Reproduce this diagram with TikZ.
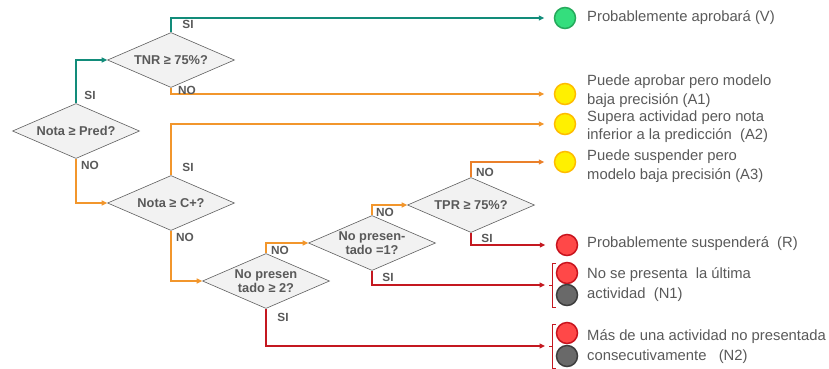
\documentclass[tikz,border=0pt]{standalone}
\usepackage{fontspec}
\setmainfont{Liberation Sans}
\usetikzlibrary{shapes.geometric,arrows.meta}
\definecolor{tealc}{RGB}{18,140,122}
\definecolor{orangec}{RGB}{242,150,44}
\definecolor{orangedk}{RGB}{234,128,42}
\definecolor{redc}{RGB}{196,24,32}
\definecolor{txt}{RGB}{89,89,89}
\definecolor{diafill}{RGB}{242,242,242}
\definecolor{diadraw}{RGB}{95,95,95}
\definecolor{gfill}{RGB}{52,222,125}
\definecolor{gdraw}{RGB}{38,170,92}
\definecolor{yfill}{RGB}{255,240,0}
\definecolor{ydraw}{RGB}{255,188,0}
\definecolor{rfill}{RGB}{255,72,72}
\definecolor{rdraw}{RGB}{200,20,30}
\definecolor{kfill}{RGB}{105,105,105}
\definecolor{kdraw}{RGB}{62,62,62}
\tikzset{
  dia/.style={diamond, draw=diadraw, fill=diafill, minimum width=127pt, minimum height=55pt, inner sep=0pt, line width=0.6pt},
  dt/.style={font=\bfseries\fontsize{12.8}{14}\selectfont, text=txt, align=center, inner sep=0pt},
  lab/.style={font=\bfseries\fontsize{11.8}{13}\selectfont, text=txt, inner sep=0pt},
  rt/.style={anchor=west, font=\fontsize{14.8}{18.5}\selectfont, text=txt, align=left, inner sep=0pt},
  rtn/.style={rt, font=\fontsize{14.8}{20}\selectfont},
  circ/.style={circle, minimum size=21pt, inner sep=0pt, line width=1.5pt},
  cgreen/.style={circ, fill=gfill, draw=gdraw},
  cyellow/.style={circ, fill=yfill, draw=ydraw},
  cred/.style={circ, fill=rfill, draw=rdraw},
  cgray/.style={circ, fill=kfill, draw=kdraw},
  conn/.style={line width=1.3pt, -{Triangle[length=5.5pt,width=5pt]}},
  tline/.style={conn, draw=tealc},
  oline/.style={conn, draw=orangec},
  odline/.style={conn, draw=orangedk},
  rline/.style={conn, draw=redc},
  brk/.style={draw=redc, line width=0.8pt}
}
\begin{document}
\begin{tikzpicture}[x=1pt,y=-1pt]
\useasboundingbox (0,0) rectangle (829,368);

% diamonds
\node[dia] (d1) at (76,131) {};
\node[dt] at (d1) {Nota ≥ Pred?};
\node[dia] (d2) at (171,60) {};
\node[dt] at (d2) {TNR ≥ 75\%?};
\node[dia] (d3) at (171,203) {};
\node[dt] at (d3) {Nota ≥ C+?};
\node[dia] (d4) at (266,281) {};
\node[dt] at (d4) {No presen\\tado ≥ 2?};
\node[dia] (d5) at (372,243) {};
\node[dt] at (d5) {No presen-\\tado =1?};
\node[dia] (d6) at (471,205) {};
\node[dt] at (d6) {TPR ≥ 75\%?};

% circles
\node[cgreen] (cV) at (565,18) {};
\node[cyellow] (cA1) at (565,94) {};
\node[cyellow] (cA2) at (565,124) {};
\node[cyellow] (cA3) at (565,162) {};
\node[cred] (cR) at (567,245) {};
\node[cred] (cN1a) at (567,273) {};
\node[cgray] (cN1b) at (567,295) {};
\node[cred] (cN2a) at (567,333) {};
\node[cgray] (cN2b) at (567,356) {};

% result texts
\node[rt] (tV) at (587,18) {Probablemente aprobará (V)};
\node[rt] (tA1) at (587,91) {Puede aprobar pero modelo\\baja precisión (A1)};
\node[rt] (tA2) at (587,126.5) {Supera actividad pero nota\\inferior a la predicción ~(A2)};
\node[rt] (tA3) at (587,166) {Puede suspender pero\\modelo baja precisión (A3)};
\node[rt] (tR) at (587,244) {Probablemente suspenderá ~(R)};
\node[rtn] (tN1) at (587,285) {No se presenta ~la última\\actividad ~(N1)};
\node[rtn] (tN2) at (587,347) {Más de una actividad no presentada\\consecutivamente ~~(N2)};

% brackets
\coordinate (b1) at (552,285);
\coordinate (b2) at (552,346);
\draw[brk] (556,263) -- (552,263) -- (552,307) -- (556,307);
\draw[brk] (b1) -- (549,285);
\draw[brk] (556,324) -- (552,324) -- (552,368) -- (556,368);
\draw[brk] (b2) -- (549,346);

% connectors
\draw[tline] (d1.north) |- (d2.west);
\draw[tline, shorten >=9.5pt] (d2.north) |- (cV.west);
\draw[oline, shorten >=9.5pt] (d2.south) |- (cA1.west);
\draw[oline] (d1.south) |- (d3.west);
\draw[oline, shorten >=9.5pt] (d3.north) |- (cA2.west);
\draw[oline] (d3.south) |- (d4.west);
\draw[oline] (d4.north) |- (d5.west);
\draw[oline] (d5.north) |- (d6.west);
\draw[odline, shorten >=9.5pt] (d6.north) |- (cA3.west);
\draw[rline, shorten >=10.5pt] (d6.south) |- (cR.west);
\draw[rline, shorten >=7pt] (d5.south) |- (b1);
\draw[rline, shorten >=7pt] (d4.south) |- (b2);

% branch labels
\node[lab] at (90,95) {SI};
\node[lab] at (90,165) {NO};
\node[lab] at (188,24) {SI};
\node[lab] at (187,90) {NO};
\node[lab] at (188,167) {SI};
\node[lab] at (185,237) {NO};
\node[lab] at (280,250) {NO};
\node[lab] at (283,317) {SI};
\node[lab] at (385,212) {NO};
\node[lab] at (388,277) {SI};
\node[lab] at (485,172) {NO};
\node[lab] at (487,238) {SI};
\end{tikzpicture}
\end{document}
